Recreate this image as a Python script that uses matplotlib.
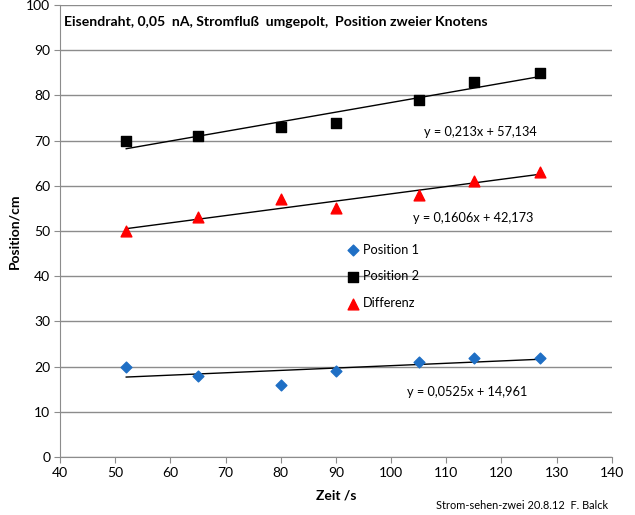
import matplotlib
matplotlib.use("Agg")
import matplotlib.pyplot as plt
import numpy as np

plt.rcParams['font.family'] = ['Lato', 'DejaVu Sans']

zeit = [52, 65, 80, 90, 105, 115, 127]
position1 = [20, 18, 16, 19, 21, 22, 22]
position2 = [70, 71, 73, 74, 79, 83, 85]
differenz = [50, 53, 57, 55, 58, 61, 63]

# trendline coefficients (slope, intercept) as printed on the chart
fit1 = (0.0525, 14.961)
fit2 = (0.213, 57.134)
fitd = (0.1606, 42.173)

labels = ["Position 1", "Position 2", "Differenz"]
eq_texts = ["y = 0,0525x + 14,961", "y = 0,213x + 57,134", "y = 0,1606x + 42,173"]

fig = plt.figure(figsize=(6.35, 5.15), dpi=100)
ax = fig.add_axes([0.0945, 0.1126, 0.869, 0.8776])

ax.set_xlim(40, 140)
ax.set_ylim(0, 100)
ax.set_xticks(np.arange(40, 141, 10))
ax.set_yticks(np.arange(0, 101, 10))
ax.yaxis.grid(True, color='#8c8c8c', linewidth=1.0)
ax.set_axisbelow(True)
for s in ['top', 'right']:
    ax.spines[s].set_visible(False)
for s in ['left', 'bottom']:
    ax.spines[s].set_color('#8c8c8c')
ax.tick_params(axis='both', direction='out', length=4, color='#8c8c8c', labelsize=10, pad=3)

xs = np.array([min(zeit), max(zeit)])
for (m, b) in (fit1, fit2, fitd):
    ax.plot(xs, m * xs + b, color='black', linewidth=1.0, zorder=2)

ax.scatter(zeit, position1, marker='D', s=30, color='#1F6FC5', zorder=3, label=labels[0])
ax.scatter(zeit, position2, marker='s', s=55, color='black', zorder=3, label=labels[1])
ax.scatter(zeit, differenz, marker='^', s=60, color='#FF0000', zorder=3, label=labels[2])

ax.legend(loc='center left', bbox_to_anchor=(0.51, 0.40), frameon=False, fontsize=9.2,
          handletextpad=0.3, labelspacing=1.15, handlelength=1.0, borderaxespad=0)

ax.text(116.2, 71.9, eq_texts[1], fontsize=9.2, ha='center', va='center')
ax.text(114.8, 52.9, eq_texts[2], fontsize=9.2, ha='center', va='center')
ax.text(113.8, 14.4, eq_texts[0], fontsize=9.2, ha='center', va='center')

ax.text(40.8, 96.3, "Eisendraht, 0,05  nA, Stromfluß  umgepolt,  Position zweier Knotens",
        fontsize=10.1, fontweight='bold', ha='left', va='center')

ax.set_xlabel("Zeit /s", fontsize=10, fontweight='bold', labelpad=8)
ax.set_ylabel("Position/cm", fontsize=10, fontweight='bold', labelpad=4)

fig.text(0.957, 0.019, "Strom-sehen-zwei 20.8.12  F. Balck", fontsize=7.9, ha='right', va='center')

fig.savefig("out.png", dpi=100, facecolor='white')
